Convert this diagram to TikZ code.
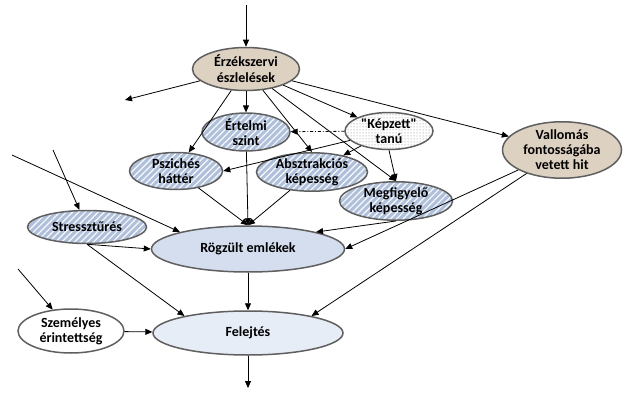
\documentclass[tikz,border=0pt]{standalone}
\usepackage{fontspec}
\setmainfont{Carlito}
\usepackage{tikz}
\usetikzlibrary{shapes,arrows,positioning,calc,patterns,patterns.meta,arrows.meta}

\definecolor{keret}{RGB}{95,95,95}
\definecolor{bezs}{RGB}{221,209,193}
\definecolor{kekes}{RGB}{176,192,219}
\definecolor{halvany}{RGB}{212,222,238}
\definecolor{feher2}{RGB}{231,237,247}

\begin{document}
\begin{tikzpicture}[x=1pt,y=-1pt,
    >={Triangle[length=7pt,width=6pt]},
    ell/.style={ellipse, draw=keret, line width=1.5pt, inner sep=0pt, align=center,
        font=\fontsize{14}{15}\selectfont\bfseries},
    bezsell/.style={ell, fill=bezs},
    csikos/.style={ell, preaction={fill=kekes},
        pattern={Lines[angle=45,distance=4.5pt,line width=1.2pt]}, pattern color=white!90!kekes},
    pottyos/.style={ell, preaction={fill=white}, pattern=dots, pattern color=gray},
    nyil/.style={->, line width=0.8pt}]
    \useasboundingbox (0,0) rectangle (632,412);

    \node (perc) at (246,69) [bezsell, minimum width=107, minimum height=43] {Érzékszervi\\[1pt]észlelések};
    \node (ertelmi) at (246,132) [csikos, minimum width=88, minimum height=35] {Értelmi\\szint};
    \node (kepzett) at (389,131) [pottyos, minimum width=88, minimum height=37] {\textquotedbl Képzett\textquotedbl\\tanú};
    \node (pszich) at (176,171) [csikos, minimum width=93, minimum height=37] {Pszichés\\háttér};
    \node (abszt) at (312,172) [csikos, minimum width=111, minimum height=35] {Absztrakciós\\képesség};
    \node (megf) at (396,201) [csikos, minimum width=113, minimum height=38] {Megfigyelő\\képesség};
    \node (vallom) at (562,150) [bezsell, minimum width=119, minimum height=47] {Vallomás\\fontosságába\\vetett hit};
    \node (stressz) at (87,227) [csikos, minimum width=119, minimum height=33] {Stressztűrés};
    \node (rogz) at (248,249) [ell, fill=halvany, minimum width=193, minimum height=46] {Rögzült emlékek};
    \node (szem) at (71,331) [ell, fill=white, minimum width=106, minimum height=44] {Személyes\\érintettség};
    \node (felejt) at (248,333) [ell, fill=feher2, minimum width=190, minimum height=44] {Felejtés};

    \coordinate (felul) at (246,5);
    \coordinate (alul) at (248,388);
    \coordinate (bal0) at (125,100);
    \coordinate (bal1) at (12,155);
    \coordinate (bal2) at (53,150);
    \coordinate (bal3) at (18,269);

    \draw[nyil] (felul) -- (perc);
    \draw[nyil] (perc) -- (bal0);
    \draw[nyil] (perc) -- (ertelmi);
    \draw[nyil] (perc) -- (pszich);
    \draw[nyil] (perc) -- (abszt.north);
    \draw[nyil] (perc) -- (kepzett);
    \draw[nyil] (perc) -- (megf.north);
    \draw[nyil] (perc) -- (vallom);

    \draw[nyil, dash dot] (kepzett) -- (ertelmi);
    \draw[nyil] (kepzett) -- (pszich.east);
    \draw[nyil] (kepzett) -- (abszt);
    \draw[nyil] (kepzett.south) -- (megf.north);

    \draw[nyil] (ertelmi) -- (rogz.north);
    \draw[nyil] (pszich) -- (rogz.north);
    \draw[nyil] (abszt) -- (rogz.north);
    \draw[nyil] (megf.south) -- (rogz.14);
    \draw[nyil] (vallom) -- (rogz.east);
    \draw[nyil] (vallom) -- (felejt.15);

    \draw[nyil] (bal1) -- (rogz.166);
    \draw[nyil] (bal2) -- (stressz);
    \draw[nyil] (stressz.south) -- (rogz.west);
    \draw[nyil] (stressz.south) -- (felejt.165);
    \draw[nyil] (bal3) -- (szem);
    \draw[nyil] (szem) -- (felejt);
    \draw[nyil] (rogz) -- (felejt);
    \draw[nyil] (felejt) -- (alul);
\end{tikzpicture}
\end{document}
